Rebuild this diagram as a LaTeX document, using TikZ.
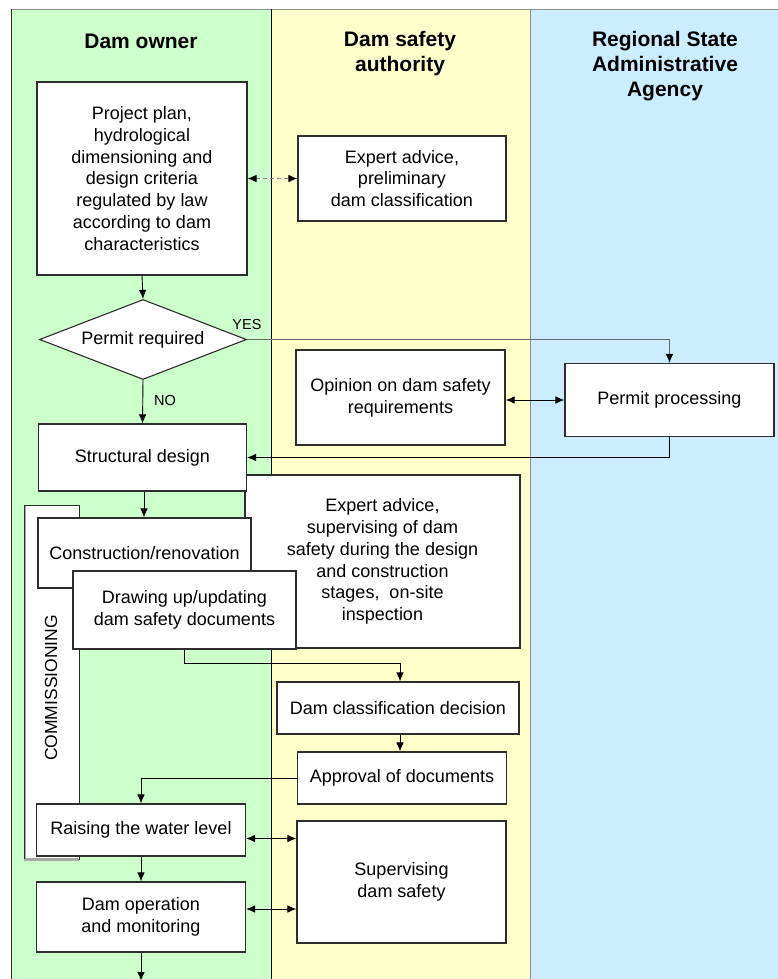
\documentclass[tikz,border=0pt]{standalone}
\usepackage{fontspec}
\setmainfont{Liberation Sans}
\usetikzlibrary{shapes.geometric,arrows.meta}
\definecolor{lgreen}{RGB}{204,255,204}
\definecolor{lyellow}{RGB}{255,255,204}
\definecolor{lblue}{RGB}{204,236,255}
\definecolor{edge}{RGB}{45,45,45}
\tikzset{
  box/.style={draw=edge, fill=white, line width=1.1pt, align=center, inner sep=0pt,
    font=\fontsize{18}{21.8}\selectfont},
  hdr/.style={align=center, font=\bfseries\fontsize{21}{25}\selectfont},
  lbl/.style={font=\fontsize{14.5}{17}\selectfont},
  arr/.style={line width=0.9pt, draw=black, -{Latex[length=9pt,width=7.5pt]}},
  darr/.style={line width=0.9pt, draw=black, {Latex[length=9pt,width=7.5pt]}-{Latex[length=9pt,width=7.5pt]}},
}
\begin{document}
\begin{tikzpicture}[x=1pt,y=-1pt]
\useasboundingbox (0,0) rectangle (778,979);
% lanes
\fill[lgreen] (11,9) rectangle (271,979);
\fill[lyellow] (271,9) rectangle (530,979);
\fill[lblue] (530,9) rectangle (778,979);
\draw[black!45, line width=0.8pt] (11,9) -- (778,9);
\draw[edge, line width=1pt] (11,9) -- (11,979);
\draw[black, line width=1pt] (271,9) -- (271,979);
\draw[black!45, line width=0.8pt] (530,9) -- (530,979);
% headers
\node[hdr] (h1) at (141,41) {Dam owner};
\node[hdr] (h2) at (400,53.5) {Dam safety\\authority};
\node[hdr] (h3) at (665,66) {Regional State\\Administrative\\Agency};
% nodes
\node[box, minimum width=210pt, minimum height=193pt] (plan) at (142,178.5)
  {Project plan,\\hydrological\\dimensioning and\\design criteria\\regulated by law\\according to dam\\characteristics};
\node[box, minimum width=208pt, minimum height=85pt] (advice) at (402,178.5)
  {Expert advice,\\preliminary\\dam classification};
\node[box, diamond, aspect=2.6, minimum width=207pt, minimum height=80pt] (permitq) at (143,339.5)
  {Permit required};
\node[box, minimum width=209pt, minimum height=95pt] (opinion) at (400.5,397.5)
  {Opinion on dam safety\\requirements};
\node[box, minimum width=209pt, minimum height=73pt] (permit) at (669.5,400)
  {Permit processing};
\node[box, minimum width=275pt, minimum height=173pt] (expert) at (382.5,561.5)
  {Expert advice,\\supervising of dam\\safety during the design\\and construction\\stages,~ on-site\\inspection};
\node[box, minimum width=208pt, minimum height=67pt] (struct) at (142.5,457.5)
  {Structural design};
% commissioning frame
\path[fill=white] (24,505) rectangle (79,860);
\draw[black!35, line width=2pt] (25,506) -- (25,859) -- (78,859);
\draw[edge, line width=1pt] (24,860) -- (24,505) -- (79,505) -- (79,860);
\draw[black!35, line width=1.6pt] (24,860) -- (79,860);
\node[rotate=90, font=\fontsize{17.5}{20}\selectfont] (comm) at (51,688) {COMMISSIONING};
\node[box, minimum width=213pt, minimum height=70pt] (constr) at (144.5,553)
  {Construction/renovation};
\node[box, minimum width=223pt, minimum height=78pt] (docs) at (184.5,610)
  {Drawing up/updating\\dam safety documents};
\node[box, minimum width=242pt, minimum height=52pt] (classif) at (398,708)
  {Dam classification decision};
\node[box, minimum width=209pt, minimum height=52pt] (approval) at (402,778)
  {Approval of documents};
\node[box, minimum width=209pt, minimum height=52pt] (raising) at (141,830)
  {Raising the water level};
\node[box, minimum width=209pt, minimum height=122pt] (superv) at (401.5,882)
  {Supervising\\dam safety};
\node[box, minimum width=209pt, minimum height=70pt] (oper) at (141,917)
  {Dam operation\\and monitoring};
\coordinate (bottom) at (141,981);
% connectors
\draw[arr] (plan.south) -- (permitq.north);
\draw[line width=1pt, draw=black!50, dash pattern=on 4pt off 3pt,
  {Latex[length=9pt,width=7.5pt,black]}-{Latex[length=9pt,width=7.5pt,black]}] (plan.east) -- (advice.west);
\draw[line width=0.9pt, draw=black!60, -{Latex[length=9pt,width=7.5pt,black]}]
  (permitq.east) -- (permitq.east -| permit.north) -- (permit.north);
\node[lbl] (yes) at (247,325) {YES};
\draw[arr] (permitq.south) -- (struct.north);
\node[lbl] (no) at (165,401) {NO};
\draw[darr] (opinion.east |- permit.west) -- (permit.west);
\draw[arr] (permit.south) |- (struct.east);
\draw[arr] (struct.south -| 144,0) -- (constr.north -| 144,0);
\draw[arr] (docs.south) -- ++(0,14) -| (classif.north -| 400,0);
\draw[arr] (classif.south -| 400,0) -- (approval.north -| 400,0);
\draw[arr] (approval.west) -| (raising.north);
\draw[darr] ([yshift=-8.5pt]raising.east) -- ([yshift=-8.5pt]raising.east -| superv.west);
\draw[arr] (raising.south) -- (oper.north);
\draw[darr] ([yshift=8pt]oper.east) -- ([yshift=8pt]oper.east -| superv.west);
\draw[arr] (oper.south) -- (bottom);
\end{tikzpicture}
\end{document}
